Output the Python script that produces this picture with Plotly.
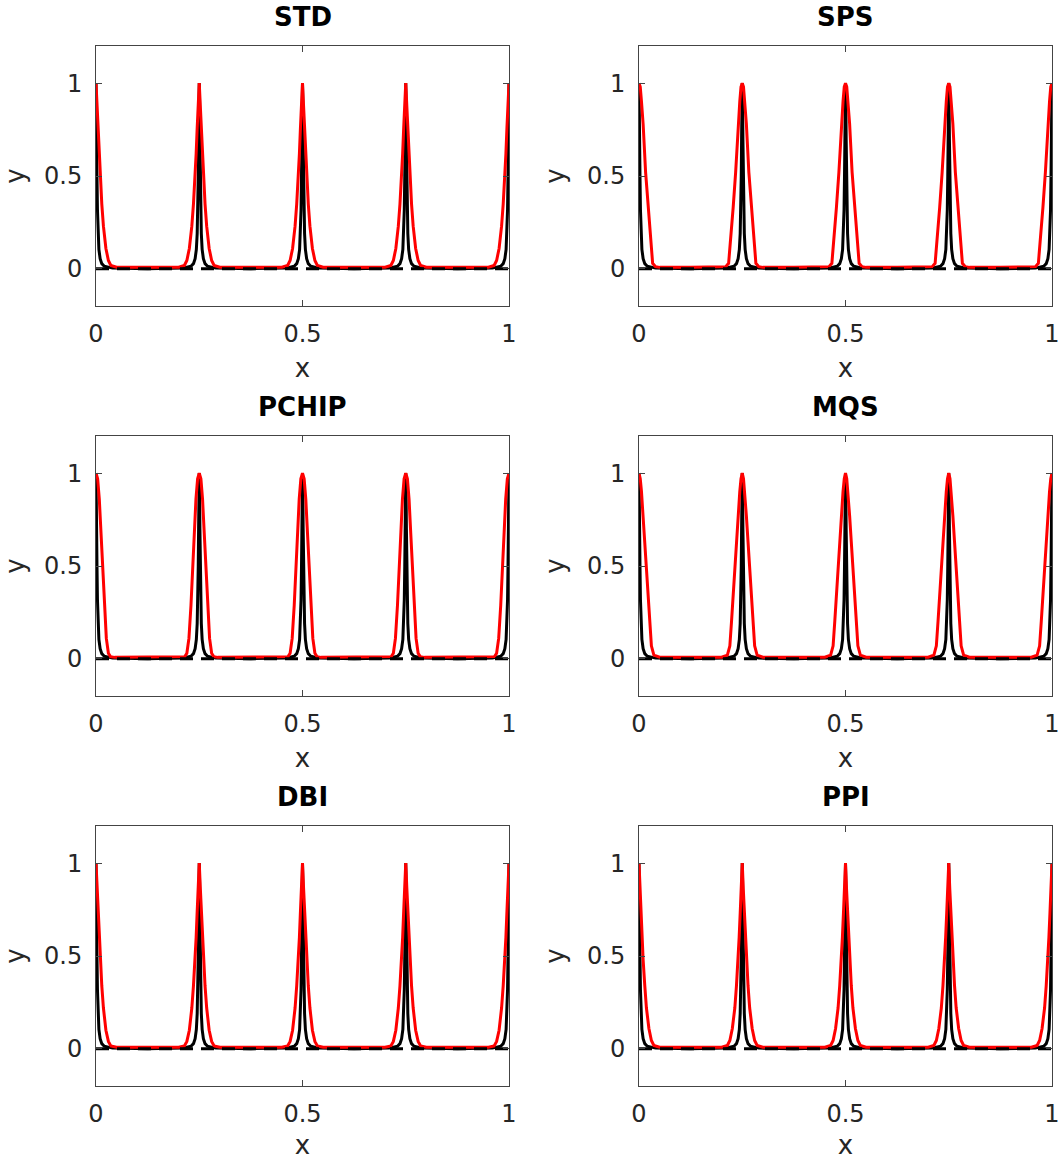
import plotly.graph_objects as go
from plotly.subplots import make_subplots

# ---------------- data ----------------
panel_titles = ["STD", "SPS", "PCHIP", "MQS", "DBI", "PPI"]
peak_centers = [0.0, 0.25, 0.5, 0.75, 1.0]

# true function: one peak profile (offset from peak centre, value)
true_offsets = [0, 0.0008, 0.0016, 0.0024, 0.0035, 0.005, 0.007, 0.010, 0.014, 0.020, 0.040, 0.125]
true_values = [1, 0.90, 0.70, 0.50, 0.32, 0.19, 0.105, 0.055, 0.028, 0.014, 0.004, 0.001]

# interpolants: one peak profile per method
std_offsets = [0, 0.0025, 0.005, 0.0075, 0.010, 0.014, 0.018, 0.024, 0.030, 0.036, 0.050, 0.125]
std_values = [1, 0.88, 0.76, 0.62, 0.50, 0.35, 0.23, 0.11, 0.045, 0.018, 0.009, 0.008]

sps_offsets = [0, 0.003, 0.006, 0.010, 0.016, 0.022, 0.028, 0.033, 0.040, 0.050, 0.125]
sps_values = [1, 0.98, 0.90, 0.78, 0.52, 0.33, 0.15, 0.03, 0.012, 0.008, 0.008]

pchip_offsets = [0, 0.004, 0.008, 0.012, 0.016, 0.020, 0.025, 0.030, 0.035, 0.045, 0.125]
pchip_values = [1, 0.97, 0.86, 0.68, 0.48, 0.29, 0.11, 0.03, 0.012, 0.008, 0.008]

mqs_offsets = [0, 0.003, 0.006, 0.010, 0.014, 0.018, 0.022, 0.026, 0.030, 0.036, 0.050, 0.125]
mqs_values = [1, 0.97, 0.90, 0.77, 0.63, 0.50, 0.35, 0.20, 0.07, 0.02, 0.009, 0.008]

dbi_offsets = [0, 0.0025, 0.005, 0.0075, 0.010, 0.014, 0.018, 0.024, 0.030, 0.036, 0.050, 0.125]
dbi_values = [1, 0.87, 0.74, 0.60, 0.48, 0.34, 0.22, 0.10, 0.04, 0.016, 0.009, 0.008]

ppi_offsets = [0, 0.0025, 0.005, 0.0075, 0.010, 0.014, 0.018, 0.024, 0.030, 0.036, 0.050, 0.125]
ppi_values = [1, 0.86, 0.73, 0.60, 0.48, 0.34, 0.22, 0.11, 0.045, 0.018, 0.009, 0.008]

x_tick_vals = [0, 0.5, 1]
x_tick_text = ["0", "0.5", "1"]
y_tick_vals = [0, 0.5, 1]
y_tick_text = ["0", "0.5", "1"]
x_range = [0, 1]
y_range = [-0.2, 1.2]

method_profiles = [
    (std_offsets, std_values),
    (sps_offsets, sps_values),
    (pchip_offsets, pchip_values),
    (mqs_offsets, mqs_values),
    (dbi_offsets, dbi_values),
    (ppi_offsets, ppi_values),
]


def build_curve(offsets, values):
    pts = {}
    for c in peak_centers:
        for d, v in zip(offsets, values):
            for s in (-1, 1):
                xv = round(c + s * d, 6)
                if 0 <= xv <= 1:
                    pts[xv] = max(pts.get(xv, 0), v)
    xs = sorted(pts)
    return xs, [pts[k] for k in xs]


true_x, true_y = build_curve(true_offsets, true_values)

# ---------------- figure ----------------
fig = make_subplots(rows=3, cols=2)

W, H = 1062, 1160
col_px = [(96, 509), (639, 1052)]
row_px = [(46, 306), (436, 696), (826, 1086)]

font_fam = "DejaVu Sans"
tick_col = "#262626"
LW = 3

for i, title in enumerate(panel_titles):
    r, c = i // 2 + 1, i % 2 + 1
    offs, vals = method_profiles[i]
    rx, ry = build_curve(offs, vals)
    fig.add_trace(go.Scatter(x=true_x, y=true_y, mode="lines",
                             line=dict(color="black", width=LW), hoverinfo="skip"),
                  row=r, col=c)
    fig.add_trace(go.Scatter(x=rx, y=ry, mode="lines",
                             line=dict(color="#ff0000", width=LW), hoverinfo="skip"),
                  row=r, col=c)
    fig.add_trace(go.Scatter(x=x_range, y=[0, 0], mode="lines",
                             line=dict(color="black", width=LW, dash="13px,8px"),
                             hoverinfo="skip"),
                  row=r, col=c)

    x0, x1 = col_px[c - 1]
    y0, y1 = row_px[r - 1]
    xd = [x0 / W, x1 / W]
    yd = [1 - y1 / H, 1 - y0 / H]
    idx = "" if i == 0 else str(i + 1)
    fig.layout["xaxis" + idx].update(
        domain=xd, range=x_range, tickvals=x_tick_vals, ticktext=x_tick_text,
        automargin=False,
        ticks="inside", ticklen=6, tickwidth=1, tickcolor="#444",
        showline=True, linecolor="#444", linewidth=1, mirror="ticks",
        showgrid=False, zeroline=False,
        tickfont=dict(family=font_fam, size=24, color=tick_col),
        ticklabelstandoff=6,
        title=dict(text="x", font=dict(family=font_fam, size=26, color=tick_col), standoff=12),
    )
    fig.layout["yaxis" + idx].update(
        domain=yd, range=y_range, tickvals=y_tick_vals, ticktext=y_tick_text,
        automargin=False,
        ticks="inside", ticklen=6, tickwidth=1, tickcolor="#444",
        showline=True, linecolor="#444", linewidth=1, mirror="ticks",
        showgrid=False, zeroline=False,
        tickfont=dict(family=font_fam, size=24, color=tick_col),
        ticklabelstandoff=8,
        title=dict(text="y", font=dict(family=font_fam, size=26, color=tick_col), standoff=14),
    )
    fig.add_annotation(
        text="<b>" + title + "</b>", xref="paper", yref="paper",
        x=(x0 + x1) / 2 / W, y=1 - y0 / H + 12 / H, xanchor="center", yanchor="bottom",
        showarrow=False, font=dict(family=font_fam, size=26, color="black"),
    )

fig.update_layout(
    width=W, height=H, showlegend=False,
    paper_bgcolor="white", plot_bgcolor="white",
    margin=dict(l=0, r=0, t=0, b=0, autoexpand=False),
)

fig.write_html(
    "out.html", config={"displayModeBar": False},
    post_script="document.body.style.margin='0px';document.body.style.overflow='hidden';"
                "document.documentElement.style.overflow='hidden';",
)
